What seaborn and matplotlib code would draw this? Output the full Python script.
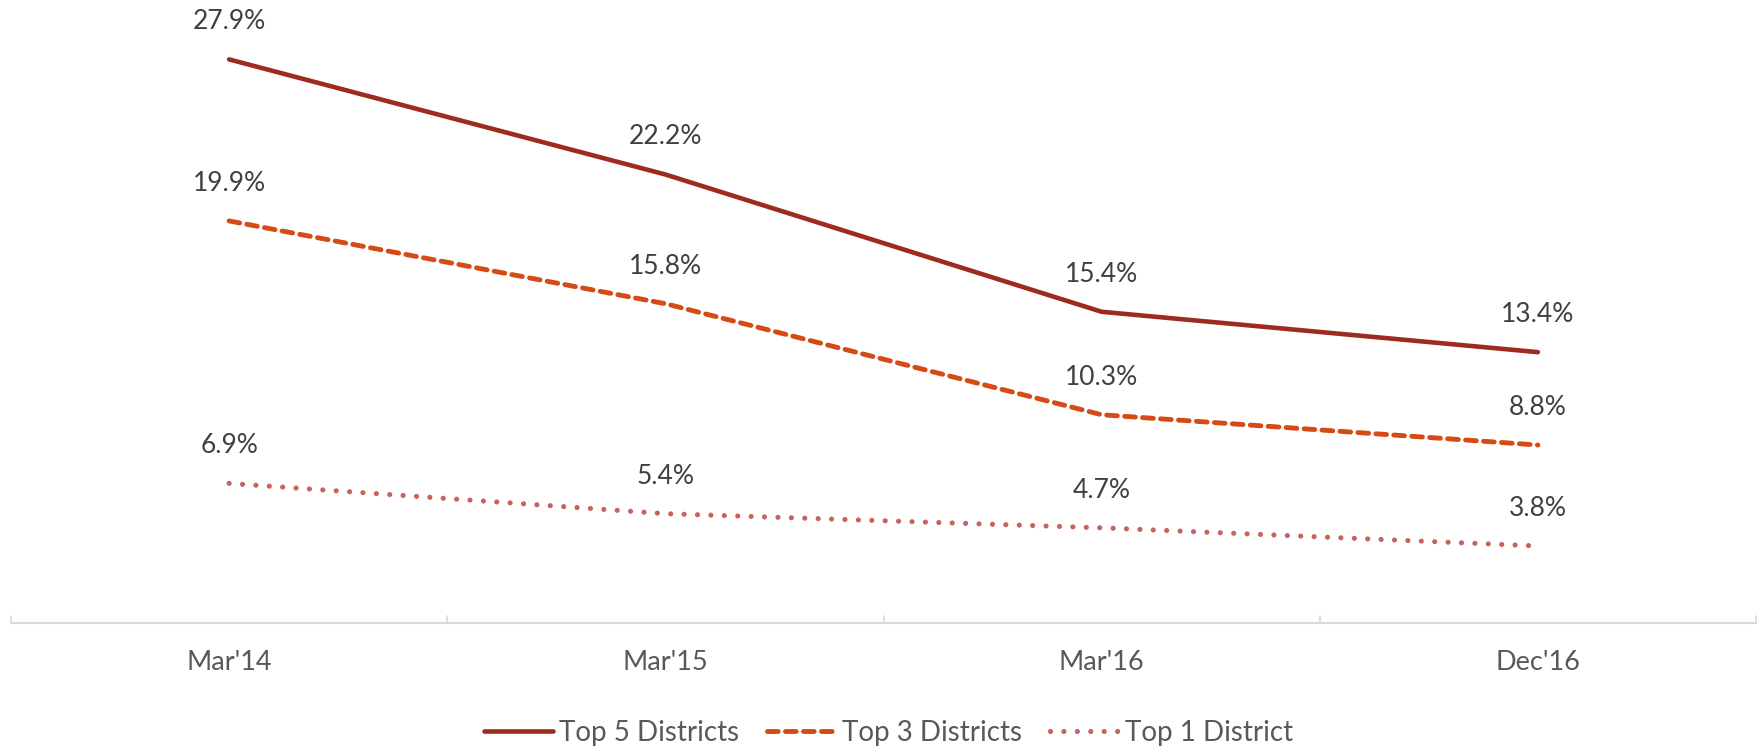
import matplotlib
matplotlib.use("Agg")
import matplotlib.pyplot as plt
from matplotlib.lines import Line2D
import seaborn as sns
import pandas as pd

periods = ["Mar'14", "Mar'15", "Mar'16", "Dec'16"]
top5 = [27.9, 22.2, 15.4, 13.4]
top3 = [19.9, 15.8, 10.3, 8.8]
top1 = [6.9, 5.4, 4.7, 3.8]
series_names = ["Top 5 Districts", "Top 3 Districts", "Top 1 District"]

colors = ["#9E2B1F", "#D64A16", "#C8625F"]

sns.set_theme(style="white")
plt.rcParams["font.family"] = ["Lato", "DejaVu Sans"]

df = pd.DataFrame({
    "period": periods * 3,
    "x": list(range(len(periods))) * 3,
    "value": top5 + top3 + top1,
    "series": [series_names[0]] * 4 + [series_names[1]] * 4 + [series_names[2]] * 4,
})

fig = plt.figure(figsize=(17.59, 7.48), dpi=100)
ax = fig.add_axes([11 / 1759, (748 - 622.7) / 748, (1756 - 11) / 1759, 605.7 / 748])

sns.lineplot(data=df, x="x", y="value", hue="series", palette=colors,
             hue_order=series_names, ax=ax, legend=False, sort=False)

styles = [
    dict(linestyle="-", linewidth=3.3),
    dict(linestyle=(0, (2.2, 1.5)), linewidth=3.5),
    dict(linestyle=(0, (0.01, 2.6)), linewidth=3.7),
]
for line, st in zip(ax.get_lines(), styles):
    line.set_linestyle(st["linestyle"])
    line.set_linewidth(st["linewidth"])
    line.set_solid_capstyle("round")
    line.set_dash_capstyle("round")

# value labels above each point
for vals in (top5, top3, top1):
    for i, v in enumerate(vals):
        ax.annotate(f"{v:.1f}%", (i, v), xytext=(0, 18), textcoords="offset points",
                    ha="center", va="bottom", fontsize=19, color="#404040")

ax.set_xlim(-0.5, len(periods) - 0.5)
ax.set_ylim(0, 30)
ax.set_yticks([])
ax.set_xticks(range(len(periods)))
ax.set_xticklabels(periods, fontsize=19.5, color="#595959")
ax.tick_params(axis="x", length=0, pad=20)
# category boundary ticks
for b in [-0.5, 0.5, 1.5, 2.5, 3.5]:
    ax.plot([b, b], [0, 0.35], color="#D9D9D9", linewidth=1.2, clip_on=False)
for s in ["top", "right", "left"]:
    ax.spines[s].set_visible(False)
ax.spines["bottom"].set_color("#D9D9D9")
ax.spines["bottom"].set_linewidth(1.5)
ax.set_xlabel("")
ax.set_ylabel("")

handles = []
for c, st in zip(colors, styles):
    handles.append(Line2D([], [], color=c, linestyle=st["linestyle"], linewidth=st["linewidth"],
                          solid_capstyle="round", dash_capstyle="round"))
leg = fig.legend(handles, series_names, loc="center", bbox_to_anchor=(0.505, 1 - 733 / 748),
                 ncol=3, frameon=False, fontsize=20, handlelength=2.5, handletextpad=0.2,
                 columnspacing=1.0)
for t in leg.get_texts():
    t.set_color("#595959")

fig.savefig("out.png", dpi=100)
